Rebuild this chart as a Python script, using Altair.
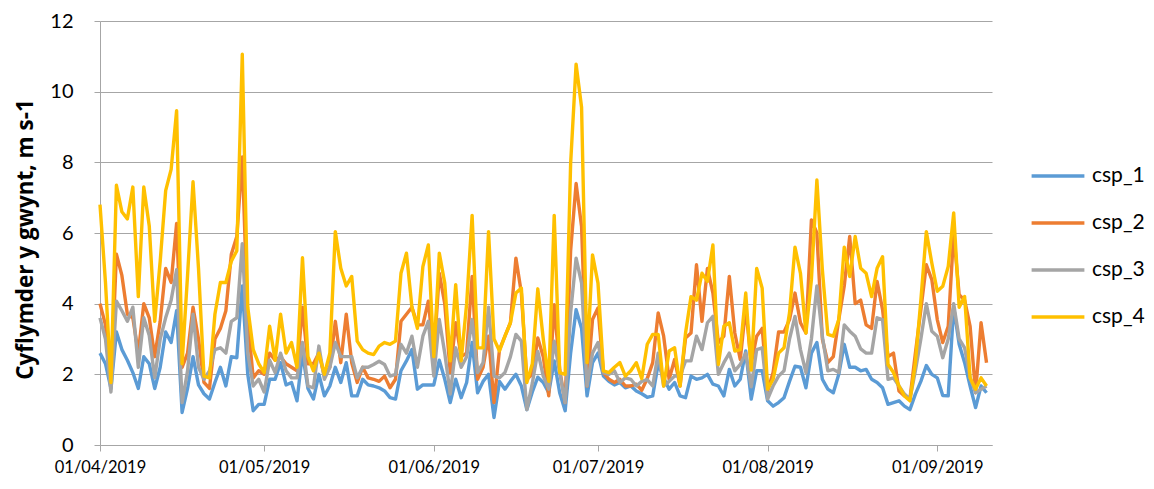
import altair as alt
import pandas as pd

start_date = "2019-04-01"
series_names = ["csp_1", "csp_2", "csp_3", "csp_4"]
series_colors = ["#5B9BD5", "#ED7D31", "#A5A5A5", "#FFC000"]
month_ticks = [4, 5, 6, 7, 8, 9]
y_ticks = [0, 2, 4, 6, 8, 10, 12]

csp_1 = [
    2.6, 2.3, 1.6, 3.2, 2.7, 2.4, 2.05, 1.6, 2.5, 2.3, 1.6, 2.2, 3.2, 2.9, 3.8, 0.92, 1.6, 2.5, 1.7, 1.45,
    1.3, 1.77, 2.2, 1.67, 2.5, 2.47, 4.5, 2.0, 0.97, 1.15, 1.15, 1.86, 1.86, 2.33, 1.7, 1.77, 1.25, 2.6, 1.6, 1.3,
    2.0, 1.39, 1.67, 2.2, 1.77, 2.33, 1.39, 1.39, 1.86, 1.7, 1.67, 1.62, 1.53, 1.34, 1.3, 2.1, 2.38, 2.7, 1.58, 1.7,
    1.7, 1.7, 2.4, 1.86, 1.2, 1.86, 1.34, 1.77, 2.9, 1.48, 1.8, 2.0, 0.78, 1.8, 1.58, 1.8, 2.0, 1.67, 1.0, 1.5,
    1.92, 1.77, 1.48, 2.38, 1.48, 0.97, 2.6, 3.83, 3.3, 1.39, 2.33, 2.6, 1.95, 1.8, 1.7, 1.77, 1.62, 1.67, 1.53, 1.45,
    1.35, 1.39, 2.3, 1.9, 1.58, 1.77, 1.39, 1.34, 1.95, 1.86, 1.9, 2.0, 1.72, 1.67, 1.39, 2.14, 1.67, 1.86, 2.66, 1.3,
    2.1, 2.1, 1.25, 1.1, 1.2, 1.34, 1.8, 2.23, 2.2, 1.62, 2.6, 2.9, 1.86, 1.58, 1.48, 2.0, 2.85, 2.2, 2.2, 2.1,
    2.14, 1.86, 1.77, 1.62, 1.15, 1.2, 1.25, 1.1, 1.0, 1.44, 1.8, 2.25, 2.0, 1.9, 1.4, 1.39, 3.9, 2.85, 2.33, 1.67,
    1.06, 1.67, 1.48,
]
csp_2 = [
    4.0, 3.4, 1.7, 5.4, 4.8, 3.7, 3.6, 2.6, 4.0, 3.6, 2.5, 3.5, 5.0, 4.6, 6.27, 2.2, 2.6, 3.9, 3.0, 1.77,
    1.6, 3.0, 3.3, 3.8, 5.4, 5.9, 8.15, 3.5, 1.9, 2.1, 2.0, 2.6, 2.4, 2.5, 2.3, 2.2, 2.1, 3.9, 2.3, 2.3,
    2.6, 1.95, 2.2, 3.5, 2.33, 3.7, 2.33, 1.77, 2.2, 1.9, 1.86, 1.8, 1.95, 1.62, 1.86, 3.5, 3.7, 3.9, 3.4, 3.4,
    4.07, 2.5, 4.86, 4.0, 2.05, 3.46, 2.5, 2.6, 4.77, 1.86, 2.2, 3.08, 1.2, 2.7, 3.08, 3.46, 5.29, 4.3, 1.86, 2.0,
    3.03, 2.5, 1.39, 3.97, 2.14, 1.2, 5.5, 7.4, 6.18, 1.67, 3.55, 3.88, 2.05, 1.86, 1.77, 1.86, 1.67, 1.67, 1.72, 1.55,
    1.88, 2.33, 3.74, 3.08, 1.86, 2.42, 1.67, 3.03, 3.17, 5.1, 3.5, 5.0, 4.3, 2.9, 3.08, 4.77, 3.17, 2.42, 3.9, 2.3,
    3.08, 3.3, 1.53, 2.05, 3.2, 3.2, 3.55, 4.3, 3.46, 3.17, 6.37, 6.0, 3.0, 2.33, 2.5, 3.55, 4.5, 5.9, 4.0, 4.1,
    3.4, 3.3, 4.63, 3.83, 2.5, 2.6, 1.53, 1.39, 1.3, 2.6, 3.83, 5.1, 4.68, 3.55, 2.9, 3.36, 6.0, 4.25, 4.1, 3.36,
    1.48, 3.46, 2.33,
]
csp_3 = [
    3.6, 3.0, 1.5, 4.07, 3.8, 3.5, 3.9, 2.2, 3.6, 3.1, 1.9, 3.0, 3.6, 4.1, 4.96, 1.2, 2.1, 3.7, 2.2, 1.86,
    2.1, 2.7, 2.75, 2.6, 3.5, 3.6, 5.7, 2.6, 1.67, 1.86, 1.5, 2.4, 2.05, 2.6, 2.1, 1.9, 1.9, 2.9, 1.67, 1.62,
    2.8, 1.86, 2.2, 2.9, 2.5, 2.5, 2.5, 1.9, 2.2, 2.2, 2.28, 2.37, 2.28, 1.95, 2.0, 2.85, 2.6, 3.08, 2.2, 3.08,
    3.5, 1.95, 3.55, 2.6, 1.44, 2.75, 2.2, 2.5, 3.55, 2.05, 2.33, 3.9, 1.95, 1.9, 2.05, 2.5, 3.13, 2.94, 1.0, 1.75,
    2.65, 1.95, 1.58, 2.94, 2.05, 1.2, 3.74, 5.29, 4.58, 1.67, 2.6, 2.9, 2.05, 2.0, 2.1, 1.77, 1.9, 1.86, 1.67, 1.8,
    1.85, 1.67, 2.6, 1.67, 1.8, 1.95, 1.95, 2.38, 2.38, 3.08, 2.7, 3.46, 3.64, 2.0, 2.33, 2.6, 2.1, 2.28, 2.6, 1.65,
    2.7, 2.75, 1.3, 1.67, 1.95, 2.1, 3.0, 3.64, 2.7, 2.05, 3.0, 4.5, 3.08, 2.1, 2.14, 2.05, 3.4, 3.22, 3.08, 2.72,
    2.6, 2.6, 3.6, 3.55, 1.86, 1.9, 1.67, 1.44, 1.3, 2.1, 3.0, 4.0, 3.22, 3.08, 2.47, 3.0, 4.0, 3.0, 2.75, 1.9,
    1.48, 1.58, 1.67,
]
csp_4 = [
    6.8, 4.6, 1.77, 7.35, 6.6, 6.4, 7.3, 4.2, 7.3, 6.2, 3.5, 5.2, 7.2, 7.8, 9.46, 2.3, 4.8, 7.45, 5.0, 1.95,
    1.9, 3.7, 4.6, 4.6, 5.2, 5.5, 11.06, 3.9, 2.7, 2.3, 2.05, 3.36, 2.4, 3.7, 2.6, 2.9, 2.2, 5.3, 2.5, 2.1,
    2.6, 2.0, 2.6, 6.04, 5.0, 4.5, 4.77, 2.94, 2.7, 2.6, 2.56, 2.8, 2.9, 2.85, 2.94, 4.86, 5.43, 3.9, 3.3, 5.05,
    5.66, 2.5, 5.43, 4.58, 2.38, 4.54, 2.38, 4.0, 6.5, 2.75, 2.75, 6.04, 3.0, 2.66, 3.08, 3.46, 4.3, 4.44, 1.77, 2.3,
    4.42, 3.0, 1.8, 6.5, 2.05, 2.0, 7.96, 10.78, 9.56, 2.33, 5.38, 4.58, 2.1, 2.05, 2.2, 2.33, 1.95, 2.1, 2.33, 1.88,
    2.85, 3.13, 3.13, 1.67, 2.66, 2.75, 1.67, 3.17, 4.2, 4.1, 4.86, 4.63, 5.66, 2.28, 3.36, 3.46, 2.66, 2.7, 4.3, 2.12,
    5.0, 4.44, 1.58, 1.86, 2.6, 2.75, 3.74, 5.6, 4.86, 3.17, 4.68, 7.5, 4.96, 3.13, 3.08, 3.55, 5.6, 4.77, 5.9, 5.0,
    4.86, 4.2, 5.0, 5.33, 2.28, 2.05, 1.67, 1.39, 1.25, 2.33, 4.1, 6.04, 5.15, 4.35, 4.49, 5.05, 6.57, 3.9, 4.2, 1.9,
    1.58, 1.9, 1.67,
]

n = len(csp_1)
dates = pd.date_range(start_date, periods=n, freq="D").strftime("%Y-%m-%dT00:00:00")
df = pd.DataFrame({"date": dates, "csp_1": csp_1, "csp_2": csp_2, "csp_3": csp_3, "csp_4": csp_4})
long_df = df.melt("date", var_name="series", value_name="value")

FONT = "Lato"
GRID = "#a6a6a6"

chart = alt.Chart(long_df).mark_line(strokeWidth=3.4, strokeJoin="round").encode(
    x=alt.X(
        "date:T",
        scale=alt.Scale(
            domain=[alt.DateTime(year=2019, month=4, date=1), alt.DateTime(year=2019, month=9, date=11)],
            nice=False,
        ),
        axis=alt.Axis(
            values=[alt.DateTime(year=2019, month=m, date=1) for m in month_ticks],
            format="%d/%m/%Y",
            title=None,
            grid=False,
            labelFont=FONT,
            labelFontSize=16.5,
            labelColor="#000000",
            labelPadding=8,
            tickSize=6,
            tickColor=GRID,
            domainColor=GRID,
            labelFlush=False,
            labelOverlap=False,
        ),
    ),
    y=alt.Y(
        "value:Q",
        scale=alt.Scale(domain=[0, 12], nice=False),
        axis=alt.Axis(
            values=y_ticks,
            title="Cyflymder y gwynt, m s-1",
            titleFont="Open Sans",
            titleFontSize=22.5,
            titleFontWeight="bold",
            titleColor="#000000",
            titleAngle=270,
            titleX=-75,
            titleY=218,
            titleAlign="center",
            titleBaseline="middle",
            labelFont=FONT,
            labelFontSize=20,
            labelColor="#000000",
            labelPadding=21,
            tickSize=6,
            tickColor=GRID,
            domainColor=GRID,
            gridColor=GRID,
            gridWidth=1,
        ),
    ),
    color=alt.Color(
        "series:N",
        scale=alt.Scale(domain=series_names, range=series_colors),
        legend=alt.Legend(
            title=None,
            orient="none",
            legendX=932,
            legendY=129,
            symbolType="M-1.1,0H1.1",
            symbolSize=2304,
            symbolStrokeWidth=3.4,
            labelFont=FONT,
            labelFontSize=21,
            labelColor="#000000",
            labelOffset=8,
            rowPadding=11,
        ),
    ),
).properties(
    width=892,
    height=424,
    autosize=alt.AutoSizeParams(type="none"),
    padding={"left": 92, "top": 13, "right": 154, "bottom": 42},
).configure_view(stroke=None)

chart.save("out.html", embed_options={"renderer": "svg", "actions": False})
